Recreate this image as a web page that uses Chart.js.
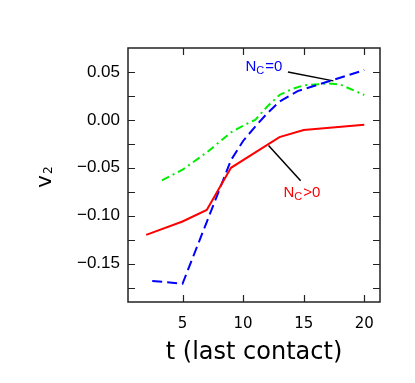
<!DOCTYPE html>
<html>
<head>
  <meta charset="UTF-8">
  <title>v2 vs t (last contact)</title>
  <script src="https://cdn.jsdelivr.net/npm/chart.js"></script>
  <style>
    body { margin: 0; background: #fff; }
  </style>
  <script>
    // values
    const redT = [2, 5, 7, 9, 13, 15, 20];
    const redV = [-0.12, -0.106, -0.094, -0.05, -0.018, -0.0105, -0.005];

    const blueT = [2.5, 5, 9, 10, 11, 12, 13, 14.5, 17.5, 20];
    const blueV = [-0.168, -0.171, -0.042, -0.022, -0.007, 0.007, 0.019, 0.03, 0.042, 0.052];

    const greenT = [3.3, 5, 7, 9, 10, 11, 12, 13, 14, 15, 17, 18, 20];
    const greenV = [-0.063, -0.052, -0.034, -0.013, -0.006, 0.0, 0.014, 0.026, 0.032, 0.036, 0.038, 0.037, 0.026];

    // pointer lines of the two labels (data units)
    const ptrZeroT = [13.7, 17.45];
    const ptrZeroV = [0.050, 0.0407];
    const ptrPosT = [12.1, 14.75];
    const ptrPosV = [-0.0266, -0.0636];

    const xTicks = [5, 10, 15, 20];
    const yTicks = [-0.175, -0.15, -0.125, -0.1, -0.075, -0.05, -0.025, 0, 0.025, 0.05];
    const yLabelTicks = [-0.15, -0.1, -0.05, 0, 0.05];

    const pts = (xs, ys) => xs.map((x, i) => ({ x: x, y: ys[i] }));

    // frame + inward ticks on all four sides
    const framePlugin = {
      id: 'frame',
      afterDraw(chart) {
        const ctx = chart.ctx;
        const a = chart.chartArea;
        const sx = chart.scales.x, sy = chart.scales.y;
        ctx.save();
        ctx.strokeStyle = '#222';
        ctx.lineWidth = 1.5;
        ctx.strokeRect(a.left, a.top, a.right - a.left, a.bottom - a.top);
        ctx.lineWidth = 1.2;
        ctx.beginPath();
        xTicks.forEach(v => {
          const px = Math.round(sx.getPixelForValue(v)) + 0.5;
          ctx.moveTo(px, a.bottom); ctx.lineTo(px, a.bottom - 7);
          ctx.moveTo(px, a.top); ctx.lineTo(px, a.top + 7);
        });
        yTicks.forEach(v => {
          const py = Math.round(sy.getPixelForValue(v)) + 0.5;
          ctx.moveTo(a.left, py); ctx.lineTo(a.left + 7, py);
          ctx.moveTo(a.right, py); ctx.lineTo(a.right - 7, py);
        });
        ctx.stroke();
        ctx.restore();
      }
    };

    // text with a subscript: N_C=0 and so on
    function subText(ctx, x, y, main, sub, rest, size) {
      ctx.font = size + 'px "Liberation Sans", Arial, sans-serif';
      ctx.fillText(main, x, y);
      x += ctx.measureText(main).width;
      ctx.font = Math.round(size * 0.72) + 'px "Liberation Sans", Arial, sans-serif';
      ctx.fillText(sub, x, y + 3);
      x += ctx.measureText(sub).width + 1;
      ctx.font = size + 'px "Liberation Sans", Arial, sans-serif';
      ctx.fillText(rest, x, y);
    }

    const labelPlugin = {
      id: 'labels',
      afterDraw(chart) {
        const ctx = chart.ctx;
        const sx = chart.scales.x, sy = chart.scales.y;
        const a = chart.chartArea;
        ctx.save();
        ctx.textBaseline = 'alphabetic';
        ctx.textAlign = 'left';

        ctx.fillStyle = '#0000ff';
        subText(ctx, sx.getPixelForValue(10.2), sy.getPixelForValue(0.0512), 'N', 'C', '=0', 15);
        ctx.fillStyle = '#ff0000';
        subText(ctx, sx.getPixelForValue(13.33), sy.getPixelForValue(-0.0808), 'N', 'C', '>0', 15);

        // x title
        ctx.fillStyle = '#000';
        ctx.textAlign = 'center';
        ctx.font = '24px "DejaVu Sans", sans-serif';
        ctx.fillText('t (last contact)', (a.left + a.right) / 2, 359);

        // y title, rotated, v with subscript 2
        ctx.translate(51, 188);
        ctx.rotate(-Math.PI / 2);
        ctx.textAlign = 'left';
        ctx.font = '22px "DejaVu Sans", sans-serif';
        ctx.fillText('v', 0, 0);
        const w = ctx.measureText('v').width;
        ctx.font = '12px "DejaVu Sans", sans-serif';
        ctx.fillText('2', w + 1, 1);
        ctx.restore();
      }
    };

    window.onload = () => {
      const ctx = document.getElementById('chart').getContext('2d');
      new Chart(ctx, {
        type: 'line',
        data: {
          datasets: [
            {
              label: 'N_C>0',
              data: pts(redT, redV),
              borderColor: '#ff0000',
              borderWidth: 2
            },
            {
              label: 'N_C=0',
              data: pts(blueT, blueV),
              borderColor: '#0000ff',
              borderWidth: 2,
              borderDash: [10, 5]
            },
            {
              label: 'all',
              data: pts(greenT, greenV),
              borderColor: '#00ee00',
              borderWidth: 2,
              borderDash: [8, 4, 2, 4]
            },
            {
              label: 'ptr0',
              data: pts(ptrZeroT, ptrZeroV),
              borderColor: '#000',
              borderWidth: 1.5
            },
            {
              label: 'ptr1',
              data: pts(ptrPosT, ptrPosV),
              borderColor: '#000',
              borderWidth: 1.5
            }
          ]
        },
        options: {
          responsive: false,
          animation: false,
          layout: { padding: { left: 0, top: 48, right: 35, bottom: 0 } },
          elements: { point: { radius: 0 }, line: { tension: 0 } },
          plugins: { legend: { display: false }, tooltip: { enabled: false } },
          scales: {
            x: {
              type: 'linear',
              min: 0.5,
              max: 21.3,
              afterBuildTicks: s => { s.ticks = xTicks.map(v => ({ value: v })); },
              afterFit: s => { s.height = 81; },
              grid: { display: false, drawTicks: false },
              border: { display: false },
              ticks: {
                color: '#000',
                padding: 13,
                maxRotation: 0,
                autoSkip: false,
                font: { family: 'DejaVu Sans', size: 15 }
              }
            },
            y: {
              type: 'linear',
              min: -0.19,
              max: 0.075,
              afterBuildTicks: s => { s.ticks = yTicks.map(v => ({ value: v })); },
              afterFit: s => { s.width = 128; },
              grid: { display: false, drawTicks: false },
              border: { display: false },
              ticks: {
                color: '#000',
                padding: 8,
                autoSkip: false,
                font: { family: 'Liberation Sans', size: 17 },
                callback: v => {
                  const hit = yLabelTicks.find(t => Math.abs(t - v) < 1e-9);
                  if (hit === undefined) return '';
                  return (hit < 0 ? '\u2212' : '') + Math.abs(hit).toFixed(2);
                }
              }
            }
          }
        },
        plugins: [framePlugin, labelPlugin]
      });
    };
  </script>
</head>
<body>
  <canvas id="chart" width="415" height="383"></canvas>
</body>
</html>
